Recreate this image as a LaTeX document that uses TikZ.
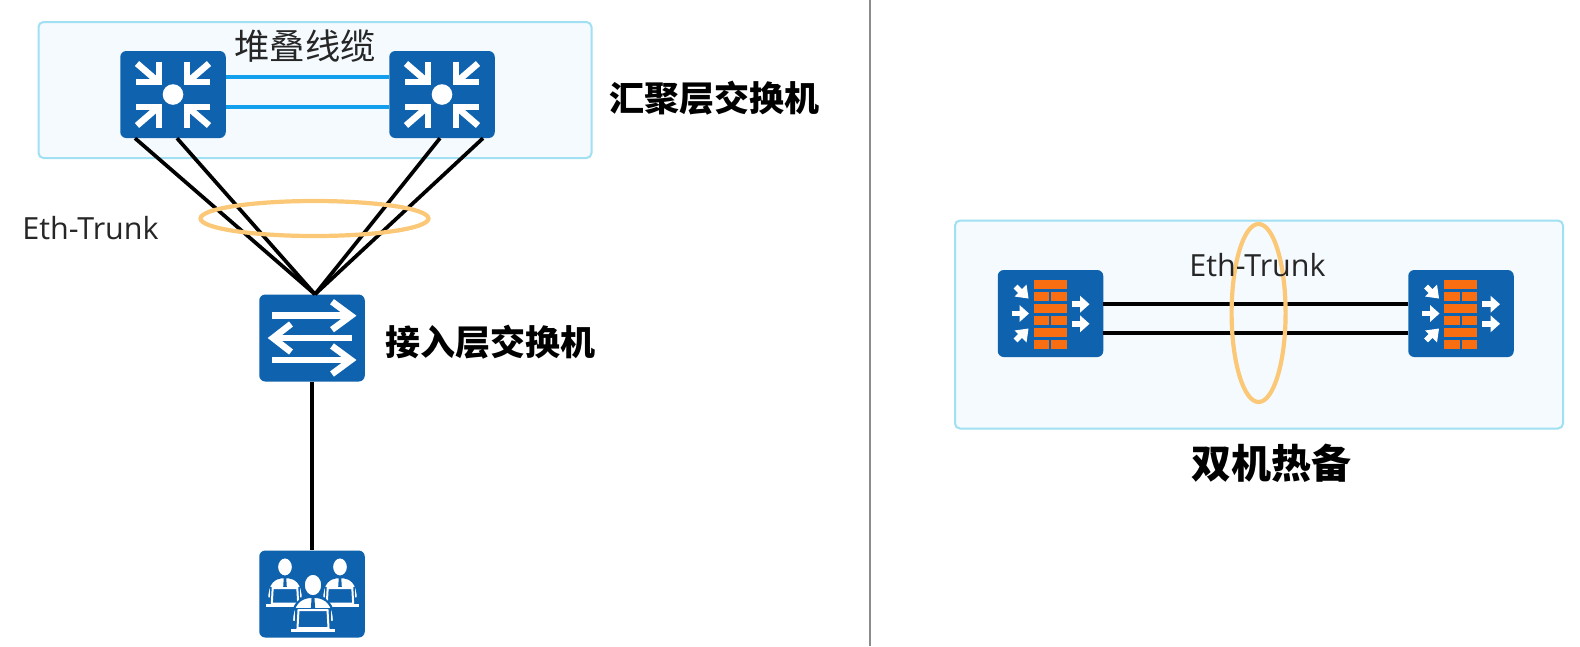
\documentclass[tikz,border=0pt]{standalone}
\usepackage{fontspec}
\setmainfont{Open Sans}
\newfontfamily\cjk{Noto Sans CJK SC}
\definecolor{iconblue}{HTML}{0F62AE}
\definecolor{panelfill}{HTML}{F4FAFE}
\definecolor{panelline}{HTML}{A0E0F2}
\definecolor{stack}{HTML}{12A0EE}
\definecolor{ring}{HTML}{FBC878}
\definecolor{brick}{HTML}{F86E10}
\tikzset{
  x=1pt,y=-1pt,
  panel/.style={draw=panelline,fill=panelfill,line width=2pt,rounded corners=5pt,inner sep=0pt},
  iconbox/.style={fill=iconblue,draw=none,rounded corners=6pt,minimum width=105.5pt,minimum height=87pt,inner sep=0pt},
  link/.style={draw=black,line width=3.7pt},
  stacklink/.style={draw=stack,line width=3.2pt},
  trunkring/.style={draw=ring,line width=4.2pt,fill=none,shape=ellipse},
  bold label/.style={font=\cjk\bfseries\fontsize{35}{35}\selectfont,inner sep=0pt},
  plain label/.style={font=\cjk\fontsize{35.3}{35.3}\selectfont,inner sep=0pt,text=black!85},
  small label/.style={font=\fontsize{30.5}{30.5}\selectfont,inner sep=0pt,text=black!85},
  pics/corearrows/.style={code={
    \fill[white] (0,0) circle (10.3);
    \foreach \sx/\sy in {1/1,-1/1,1/-1,-1/-1}{
      \begin{scope}[xscale=\sx,yscale=\sy]
        \draw[white,line width=6.5pt] (36,-31) -- (14,-12);
        \draw[white,line width=6.5pt] (14,-33) -- (14,-12.7) -- (37,-12.7);
      \end{scope}}
  }},
  pics/swarrows/.style={code={
    \foreach \yy in {-22.3,22}{
      \draw[white,line width=6.5pt] (-40,\yy) -- (38,\yy);
      \draw[white,line width=6.5pt] (20,\yy-14) -- (39,\yy) -- (20,\yy+14);
    }
    \draw[white,line width=6.5pt] (40,0) -- (-38,0);
    \draw[white,line width=6.5pt] (-21,-14) -- (-39,0) -- (-21,14);
  }},
  pics/onefigure/.style={code={
    \filldraw[fill=white,draw=iconblue,line width=2.2pt] (-21,14) .. controls (-21,-5) and (-12,-10) .. (-4,-11) -- (4,-11) .. controls (12,-10) and (21,-5) .. (21,14) -- cycle;
    \filldraw[fill=white,draw=iconblue,line width=1.5pt] (0,-23) ellipse (9 and 11);
    \fill[iconblue] (-1.4,-11) -- (1.4,-11) -- (2.2,2) -- (-2.2,2) -- cycle;
    \fill[iconblue] (-18,0) rectangle (18,24.5);
    \filldraw[fill=iconblue,draw=white,line width=2pt] (-15.5,20) -- (-14.5,2) -- (14.5,2) -- (15.5,20) -- cycle;
    \draw[white,line width=2.8pt] (-22,22.5) -- (22,22.5);
  }},
  pics/usergroup/.style={code={
    \pic[scale=.85] at (-27,-7.5) {onefigure};
    \pic[scale=.85] at (28,-7.5) {onefigure};
    \pic at (1,14) {onefigure};
  }},
  pics/fwicon/.style={code={
    \foreach \yy in {-34,-9.7,14}{
      \fill[brick] (-16.8,\yy) rectangle (16.2,\yy+9.3);
      \fill[brick] (-16.8,\yy+12) rectangle (-1.2,\yy+21.3);
      \fill[brick] (0.6,\yy+12) rectangle (16.2,\yy+21.3);
    }
    \draw[white,line width=5.5pt] (-35,-27) -- (-27,-19);
    \fill[white] (-22,-15) -- (-36,-17) -- (-24,-29) -- cycle;
    \draw[white,line width=5.5pt] (-39,0) -- (-30,0);
    \fill[white] (-21.5,0) -- (-31,-8.5) -- (-31,8.5) -- cycle;
    \draw[white,line width=5.5pt] (-35,27) -- (-27,19);
    \fill[white] (-22,15) -- (-36,17) -- (-24,29) -- cycle;
    \foreach \yy in {-9.3,10.3}{
      \draw[white,line width=5.5pt] (21,\yy) -- (30,\yy);
      \fill[white] (39,\yy) -- (29.5,\yy-8.5) -- (29.5,\yy+8.5) -- cycle;
    }
  }}
}
\usetikzlibrary{shapes.geometric}
\begin{document}
\begin{tikzpicture}
\useasboundingbox (0,0) rectangle (1580,646);
\fill[white] (0,0) rectangle (1580,646);

\coordinate (divtop) at (870,0);
\coordinate (divbot) at (870,646);
\draw[draw=black!45,line width=2.4pt] (divtop) -- (divbot);

\node[panel,minimum width=553pt,minimum height=136pt] (corepanel) at (315,90) {};
\node[panel,minimum width=608pt,minimum height=208pt] (fwpanel) at (1259,324.5) {};

\node[iconbox] (core1) at (173,94.5) {};
\node[iconbox] (core2) at (442,94.5) {};
\node[iconbox] (access) at (312,338) {};
\node[iconbox] (users) at (312,594) {};
\node[iconbox] (fw1) at (1050.5,313.5) {};
\node[iconbox] (fw2) at (1461,313.5) {};

\foreach \off in {-38,4}{
  \draw[link] ([xshift=\off pt]core1.south) -- ([xshift=3pt]access.north);
}
\foreach \off in {-2,41}{
  \draw[link] ([xshift=\off pt]core2.south) -- ([xshift=3pt]access.north);
}
\draw[link] (access.south) -- (users.north);
\draw[stacklink] ([yshift=17.5pt]core1.east) -- ([yshift=17.5pt]core2.west);
\draw[stacklink] ([yshift=-12.5pt]core1.east) -- ([yshift=-12.5pt]core2.west);
\draw[link] ([yshift=9.5pt]fw1.east) -- ([yshift=9.5pt]fw2.west);
\draw[link] ([yshift=-19.5pt]fw1.east) -- ([yshift=-19.5pt]fw2.west);

\node[trunkring,minimum width=228pt,minimum height=35pt,inner sep=0pt] (ring1) at (314.5,218.5) {};
\node[trunkring,minimum width=54pt,minimum height=178pt,inner sep=0pt] (ring2) at (1258.6,313) {};

\pic at (core1.center) {corearrows};
\pic at (core2.center) {corearrows};
\pic at (access.center) {swarrows};
\pic at (users.center) {usergroup};
\pic at (fw1.center) {fwicon};
\pic at (fw2.center) {fwicon};

\node[plain label] (stacktext) at (305,46) {堆叠线缆};
\node[bold label] (coretext) at (714,98) {汇聚层交换机};
\node[bold label] (accesstext) at (490,342.5) {接入层交换机};
\node[bold label,font=\cjk\bfseries\fontsize{40}{40}\selectfont] (hatext) at (1271,463.5) {双机热备};
\node[small label] (trunk1) at (90.5,228) {Eth-Trunk};
\node[small label] (trunk2) at (1257.5,265) {Eth-Trunk};
\end{tikzpicture}
\end{document}
